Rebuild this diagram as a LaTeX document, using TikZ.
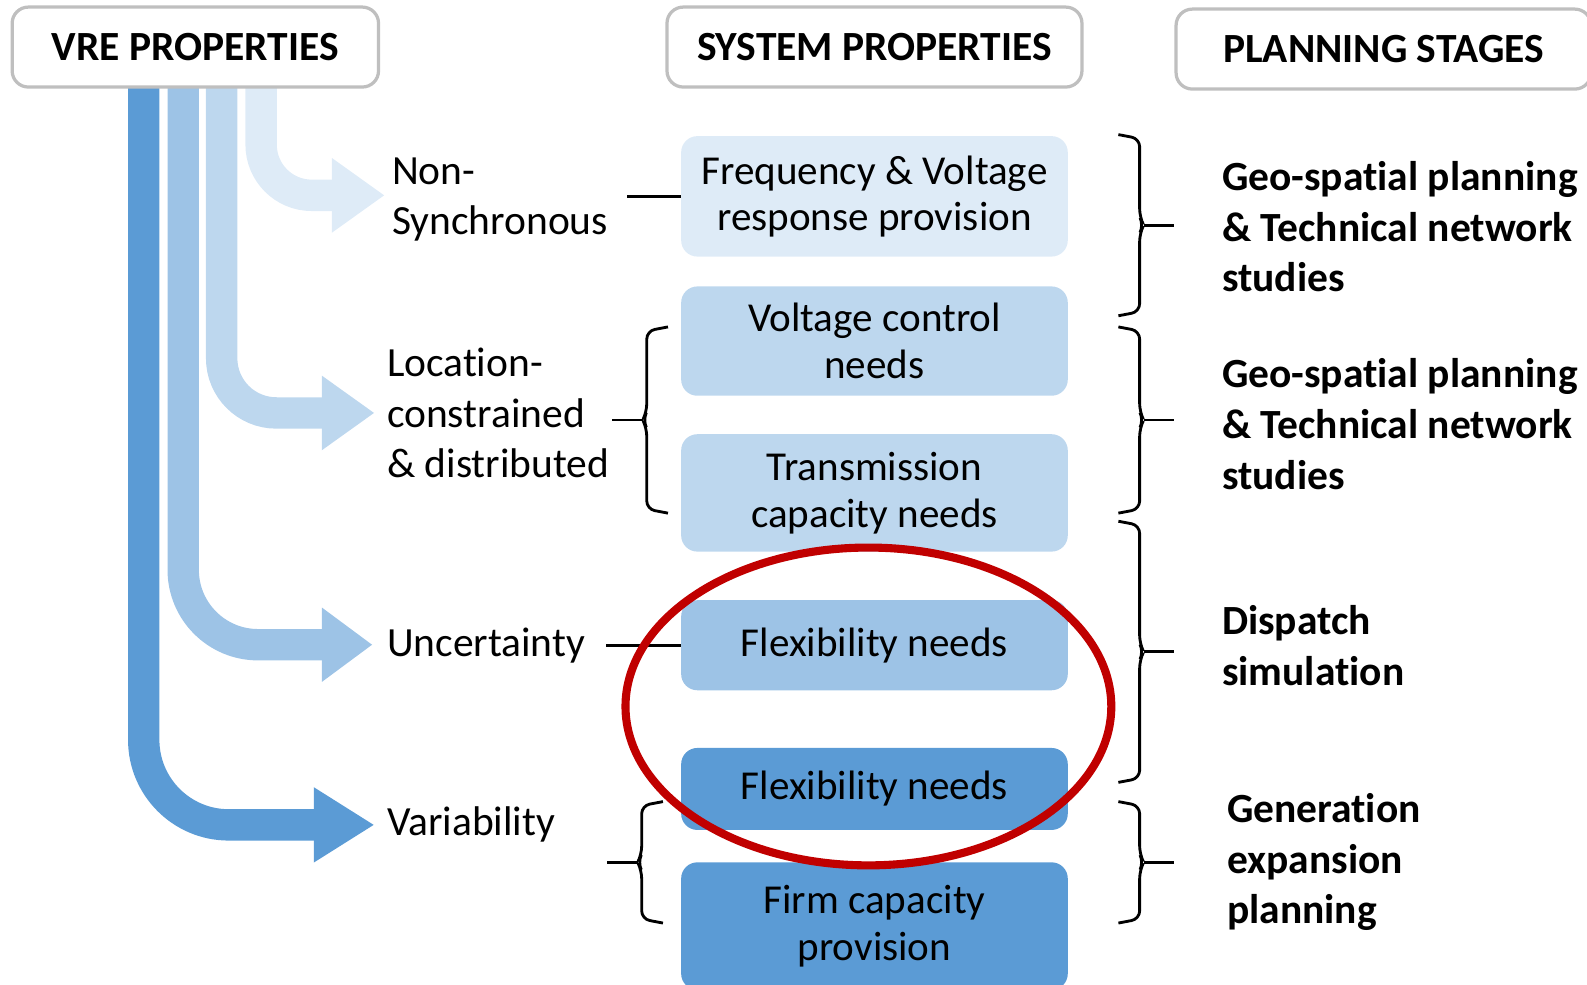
\documentclass[tikz,border=0pt]{standalone}
\usepackage{fontspec}
\setmainfont{Carlito}[Ligatures=NoCommon]
\usetikzlibrary{arrows.meta,calc}
\definecolor{blueA}{HTML}{DEEBF7}
\definecolor{blueB}{HTML}{BDD7EE}
\definecolor{blueC}{HTML}{9DC3E6}
\definecolor{blueD}{HTML}{5B9BD5}
\definecolor{ringred}{HTML}{C00000}
\definecolor{headgray}{HTML}{BFBFBF}
\begin{document}
\begin{tikzpicture}[x=0.5pt,y=-0.5pt]
        \tikzset{
          head/.style={draw=headgray,line width=1.6pt,rounded corners=8pt,fill=white,inner sep=0pt,
                       minimum height=39.5pt,font=\fontsize{20.5}{25}\selectfont\bfseries},
          need/.style={rounded corners=8pt,minimum width=191pt,align=center,inner sep=0pt,
                       font=\fontsize{20.3}{23}\selectfont},
          prop/.style={anchor=west,align=left,inner sep=0pt,font=\fontsize{20.5}{25}\selectfont},
          stage/.style={anchor=west,align=left,inner sep=0pt,font=\fontsize{20.5}{25}\selectfont\bfseries},
          flow/.style={line width=15.5pt,-{Triangle[length=#1,width=35pt]}},
          link/.style={line width=1.4pt},
          grp/.style={line width=1.4pt,rounded corners=4pt},
          ring/.style={draw=ringred,line width=4pt}
        }
        \useasboundingbox (0,0) rectangle (1568,973);
        %\draw[flow=..., color, rounded corners=r] (bar top) -- (bend) -- (tip);
        \draw[flow=30pt,blueD,rounded corners=42pt] (142,60) -- (142,815) -- (370,815);
        \draw[flow=25pt,blueC,rounded corners=37pt] (181,60) -- (181,637) -- (368,637);
        \draw[flow=26pt,blueB,rounded corners=27pt] (219,60) -- (219,408) -- (370,408);
        \draw[flow=26pt,blueA,rounded corners=25pt] (258,60) -- (258,193) -- (380,193);
        \node[head,minimum width=181pt] (vre) at (193,46.5) {VRE PROPERTIES};
        \node[head,minimum width=205pt] (sys) at (864,46.5) {SYSTEM PROPERTIES};
        \node[head,minimum width=205pt] (plan) at (1367,48.5) {PLANNING STAGES};
        \node[need,fill=blueA,minimum height=59.5pt] (freq) at (864,194) {Frequency \& Voltage\\response provision};
        \node[need,fill=blueB,minimum height=54pt] (volt) at (864,337) {Voltage control\\needs};
        \node[need,fill=blueB,minimum height=58pt] (trans) at (864,487) {Transmission\\capacity needs};
        \node[need,fill=blueC,minimum height=44.5pt] (flexa) at (864,637.5) {Flexibility needs};
        \node[need,fill=blueD,minimum height=40.5pt] (flexb) at (864,779.5) {Flexibility needs};
        \node[need,fill=blueD,minimum height=63pt] (firm) at (864,915) {Firm capacity\\provision};
        \node[prop] (nonsync) at (387,197) {Non-\\Synchronous};
        \node[prop] (loc) at (382,408) {Location-\\constrained\\\& distributed};
        \node[prop] (unc) at (382,638) {Uncertainty};
        \node[prop] (var) at (382,815) {Variability};
        \node[stage] (geoa) at (1207,224) {Geo-spatial planning\\\& Technical network\\studies};
        \node[stage] (geob) at (1207,419) {Geo-spatial planning\\\& Technical network\\studies};
        \node[stage] (disp) at (1207,638) {Dispatch\\simulation};
        \node[stage] (gen) at (1212,852) {Generation\\expansion\\planning};
        \draw[link] (freq.west) -- ([xshift=9pt]nonsync.east |- freq.west);
        \draw[link] (flexa.west) -- ([xshift=10pt]unc.east |- flexa.west);
        % braces: end hooks, spine, notch and tip line
        \coordinate (la1) at (660,323); \coordinate (la2) at (660,507);
        \coordinate (lb1) at (655,792); \coordinate (lb2) at (655,912);
        \coordinate (ra1) at (1105,133); \coordinate (ra2) at (1105,312);
        \coordinate (rb1) at (1105,323); \coordinate (rb2) at (1105,507);
        \coordinate (rc1) at (1105,515); \coordinate (rc2) at (1105,773);
        \coordinate (rd1) at (1105,792); \coordinate (rd2) at (1105,912);
        \foreach \a/\b/\s in {la1/la2/-1,lb1/lb2/-1,ra1/ra2/1,rb1/rb2/1,rc1/rc2/1,rd1/rd2/1}{
          \coordinate (m) at ($(\a)!0.5!(\b)+(\s*10.5pt,0)$);
          \draw[grp] (\a) -- ($(\a)+(\s*10.5pt,-2pt)$) -- ($(m)+(0,-8)$) -- ($(m)+(\s*2pt,0)$)
                     -- ($(m)+(0,8)$) -- ($(\b)+(\s*10.5pt,2pt)$) -- (\b);
          \draw[link] ($(m)+(\s*2pt,0)$) -- ++(\s*15pt,0);
        }
        \draw[ring] (858,698) ellipse [x radius=120pt,y radius=78.5pt];
    \end{tikzpicture}
\end{document}
